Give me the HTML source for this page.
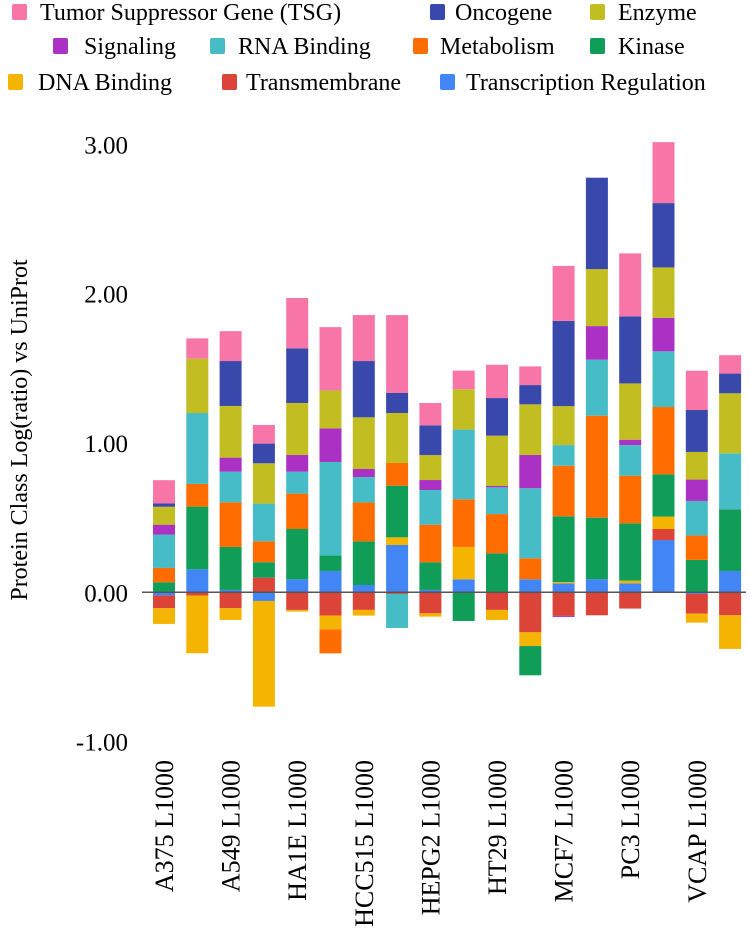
<!DOCTYPE html>
<html><head><meta charset="utf-8">
<style>
html,body{margin:0;padding:0;background:#fff;}
body{width:750px;height:934px;overflow:hidden;font-family:"Liberation Serif",serif;}
svg text{font-family:"Liberation Serif",serif;fill:#000;}
</style></head>
<body>
<svg id="chart" width="750" height="934" viewBox="0 0 750 934" xmlns="http://www.w3.org/2000/svg">
<g id="legend"></g>
<g id="yaxis"></g>
<g id="bars"></g>
<g id="xaxis"></g>
<text transform="translate(27,430) rotate(-90)" text-anchor="middle" font-size="24">Protein Class Log(ratio) vs UniProt</text>
</svg>
<script>
const categories = ["A375 L1000","","A549 L1000","","HA1E L1000","","HCC515 L1000","","HEPG2 L1000","","HT29 L1000","","MCF7 L1000","","PC3 L1000","","VCAP L1000",""];
const seriesNames = ["Transcription Regulation","Transmembrane","DNA Binding","Kinase","Metabolism","RNA Binding","Signaling","Enzyme","Oncogene","Tumor Suppressor Gene (TSG)"];
const seriesColors = ["#4285f4","#db4437","#f4b400","#0f9d58","#ff6d00","#46bdc6","#ab30c4","#c2bd20","#3949ab","#f875a8"];
const transcriptionRegulation = [-0.022,0.154,0.016,-0.058,0.087,0.143,0.049,0.317,0.016,0.087,0,0.087,0.06,0.087,0.06,0.35,-0.011,0.143];
const transmembrane = [-0.085,-0.022,-0.107,0.098,-0.118,-0.156,-0.118,-0.011,-0.141,0,-0.118,-0.268,-0.158,-0.154,-0.109,0.074,-0.132,-0.154];
const dnaBinding = [-0.105,-0.386,-0.078,-0.708,-0.011,-0.092,-0.038,0.051,-0.022,0.217,-0.067,-0.092,0.009,0,0.018,0.083,-0.06,-0.225];
const kinase = [0.067,0.42,0.288,0.103,0.337,0.103,0.292,0.346,0.185,-0.192,0.261,-0.196,0.44,0.413,0.384,0.283,0.217,0.413];
const metabolism = [0.096,0.152,0.299,0.141,0.237,-0.161,0.261,0.152,0.252,0.319,0.263,0.141,0.339,0.683,0.319,0.451,0.163,0];
const rnaBinding = [0.223,0.475,0.205,0.252,0.147,0.627,0.17,-0.228,0.232,0.467,0.179,0.469,0.138,0.375,0.205,0.373,0.232,0.375];
const signaling = [0.067,0,0.094,0,0.112,0.225,0.054,0,0.067,0,0.009,0.223,-0.007,0.225,0.036,0.225,0.143,0];
const enzyme = [0.12,0.364,0.346,0.27,0.348,0.254,0.346,0.335,0.167,0.27,0.337,0.339,0.261,0.382,0.377,0.337,0.185,0.402];
const oncogene = [0.022,0,0.301,0.132,0.366,0,0.377,0.134,0.199,0,0.252,0.129,0.571,0.612,0.449,0.431,0.281,0.132];
const tsg = [0.156,0.136,0.2,0.125,0.337,0.424,0.308,0.522,0.15,0.125,0.223,0.125,0.368,0,0.422,0.408,0.263,0.123];
const yTicks = [3,2,1,0,-1];
const yTickLabels = ["3.00","2.00","1.00","0.00","-1.00"];

const series = [transcriptionRegulation,transmembrane,dnaBinding,kinase,metabolism,rnaBinding,signaling,enzyme,oncogene,tsg];
const NS = "http://www.w3.org/2000/svg";
const y = v => 592.3 - v * 149.3;
const xc = i => 164 + i * 33.3;
const BW = 22;
function mk(tag, attrs, parent){const e=document.createElementNS(NS,tag);for(const k in attrs)e.setAttribute(k,attrs[k]);parent.appendChild(e);return e;}

const yaxis = document.getElementById('yaxis');
yTicks.forEach((t,i)=>{
  const tx = mk('text',{x:128,y:y(t)+9,'text-anchor':'end','font-size':25},yaxis);
  
  
  tx.textContent = yTickLabels[i];
});

const barsG = document.getElementById('bars');
categories.forEach((c,i)=>{
  const g = mk('g',{},barsG);
  
  
  let pos=0, neg=0;
  series.forEach((s,k)=>{
    const v = s[i];
    if(!v) return;
    let y0,y1;
    if(v>0){y0=pos;pos+=v;y1=pos;} else {y0=neg;neg+=v;y1=neg;}
    const top=Math.min(y(y0),y(y1)), h=Math.abs(y(y1)-y(y0));
    const r = mk('rect',{x:xc(i)-BW/2,y:top,width:BW,height:h,fill:seriesColors[k]},g);
    
    
  });
});
const zl = mk('line',{x1:142,x2:746,y1:y(0),y2:y(0),stroke:'#555','stroke-width':1.5},barsG);



const xaxis = document.getElementById('xaxis');
categories.forEach((c,i)=>{
  if(!c) return;
  const t = mk('text',{transform:`translate(${xc(i)+9},760) rotate(-90)`,'text-anchor':'end','font-size':26},xaxis);
  
  
  t.textContent = c;
});

const legendItems = [
  [9,12,40,12],[8,430,455,12],[7,590,618,12],
  [6,53,84,46],[5,210,238,46],[4,413,440,46],[3,590,618,46],
  [2,8,38,82],[1,222,246,82],[0,440,466,82]
];
const lg = document.getElementById('legend');
legendItems.forEach(([k,sx,tx,cy])=>{
  const g = mk('g',{},lg);
  
  
  mk('rect',{x:sx,y:cy-8,width:15,height:16,rx:2,fill:seriesColors[k]},g);
  const t = mk('text',{x:tx,y:cy+8,'font-size':24},g);
  t.textContent = seriesNames[k];
});
</script>
</body></html>
